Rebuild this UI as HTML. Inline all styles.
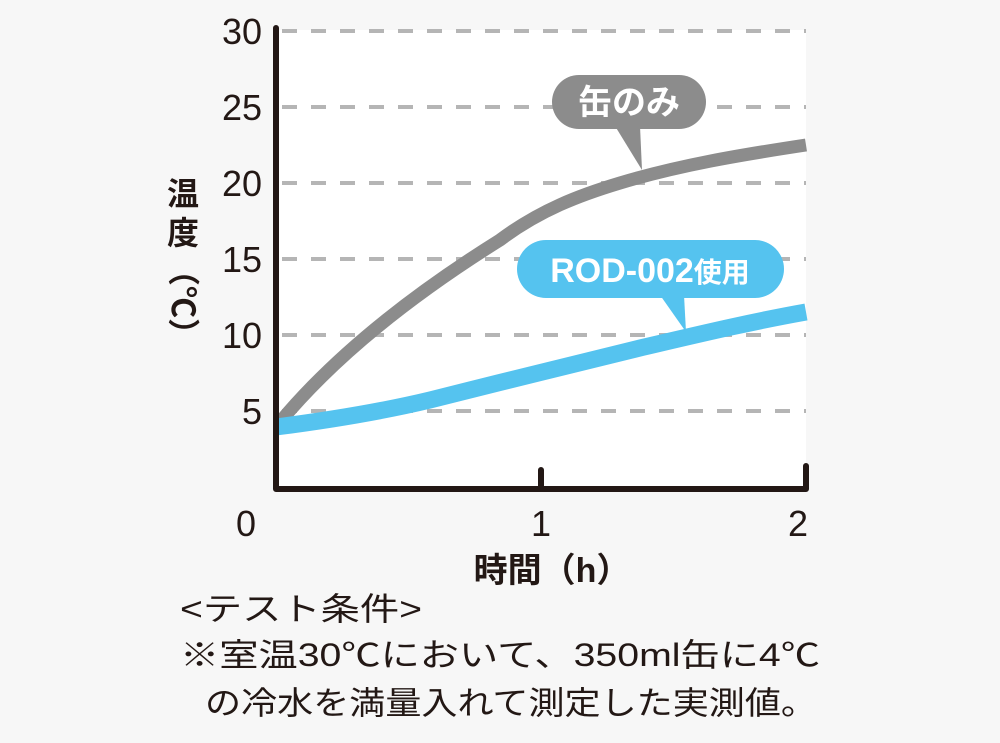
<!DOCTYPE html><html><head><meta charset="utf-8"><style>
body{margin:0;width:1000px;height:738px;background:#f7f7f7;overflow:hidden;font-family:"Liberation Sans","Noto Sans CJK JP",sans-serif;}
</style></head><body>
<svg width="1000" height="738" viewBox="0 0 1000 738" xmlns="http://www.w3.org/2000/svg" font-family="Liberation Sans, Noto Sans CJK JP, sans-serif">
<rect x="276" y="30" width="530" height="460" fill="#fff"/>
<g stroke="#b5b5b5" stroke-width="4" stroke-dasharray="15 14">
<line x1="282" y1="31" x2="806" y2="31"/><line x1="282" y1="107" x2="806" y2="107"/><line x1="282" y1="183" x2="806" y2="183"/><line x1="282" y1="259" x2="806" y2="259"/><line x1="282" y1="335" x2="806" y2="335"/><line x1="282" y1="411" x2="806" y2="411"/>
</g>
<path d="M280 422 C340 350 420 290 500 240 C540 210 580 195 620 183 C680 165 740 155 806 145" fill="none" stroke="#8c8c8c" stroke-width="13"/>
<path d="M276 427 C330 420 380 412 430 400 C500 382 560 368 640 348 C700 334 750 322 806 312" fill="none" stroke="#55c3ef" stroke-width="17"/>
<path d="M276 28 V489 H806 V466 M541 489 V470" fill="none" stroke="#231815" stroke-width="6" stroke-linecap="round" stroke-linejoin="round"/>
<g font-size="36" fill="#231815" text-anchor="end">
<text x="262" y="44">30</text><text x="262" y="120">25</text><text x="262" y="196">20</text><text x="262" y="272">15</text><text x="262" y="348">10</text><text x="262" y="424">5</text>
</g>
<g font-size="36" fill="#231815" text-anchor="middle"><text x="246" y="536">0</text><text x="541" y="536">1</text><text x="798" y="536">2</text></g>
<text x="552" y="582" font-size="34" font-weight="bold" fill="#231815" text-anchor="middle">時間（h）</text>
<g font-size="32" font-weight="bold" fill="#231815" text-anchor="middle">
<text x="183" y="205">温</text><text x="183" y="244">度</text>
<text x="183" y="302" transform="rotate(90 183 302)" dy="11">（℃）</text>
</g>
<rect x="552" y="75" width="154" height="54" rx="27" fill="#8c8c8c"/>
<path d="M615 126 L642 170 L640 126 Z" fill="#8c8c8c"/>
<text x="629" y="114" font-size="34" font-weight="bold" fill="#fff" text-anchor="middle">缶のみ</text>
<rect x="517" y="240" width="267" height="58" rx="29" fill="#55c3ef"/>
<path d="M660 295 L686 332 L684 295 Z" fill="#55c3ef"/>
<text x="650" y="282" font-size="34" font-weight="bold" fill="#fff" text-anchor="middle"><tspan>ROD-002</tspan><tspan font-size="28">使用</tspan></text>
<g font-size="32" fill="#231815">
<text x="180" y="620" textLength="242" lengthAdjust="spacingAndGlyphs">&lt;テスト条件&gt;</text>
<text x="180" y="666" textLength="640" lengthAdjust="spacingAndGlyphs">※室温30℃において、350ml缶に4℃</text>
<text x="205" y="714" textLength="612" lengthAdjust="spacingAndGlyphs">の冷水を満量入れて測定した実測値。</text>
</g>
</svg>
</body></html>
